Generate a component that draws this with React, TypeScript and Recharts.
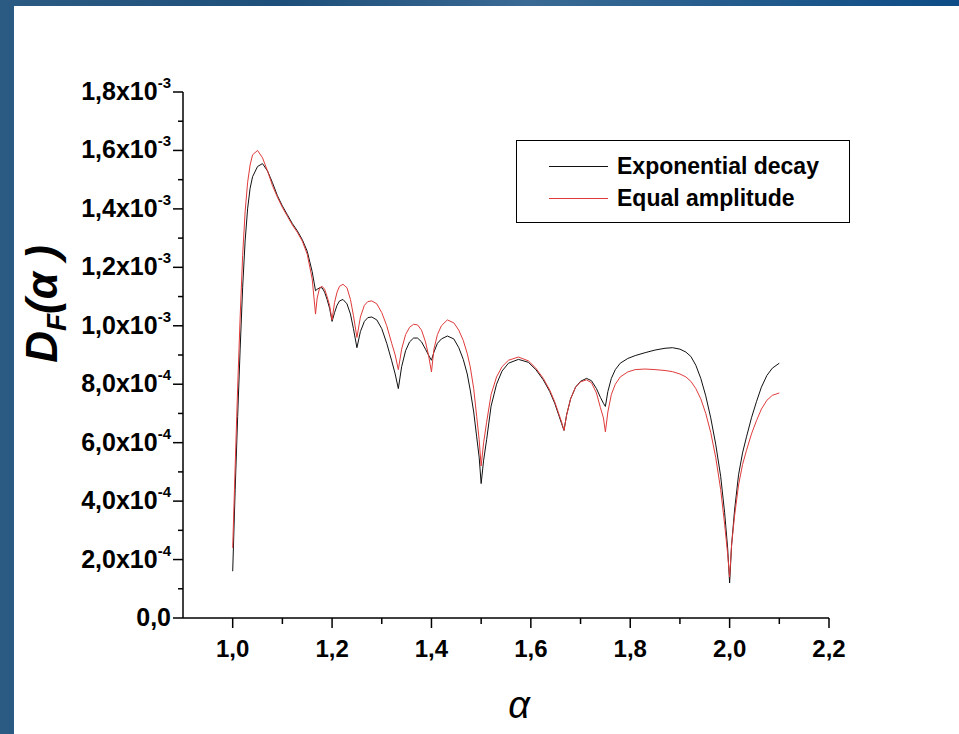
import { LineChart, Line, XAxis, YAxis, Legend, Label } from "recharts";

// alpha values (shared by both curves)
const ALPHA = [
  1.0, 1.005, 1.01, 1.015, 1.02, 1.025, 1.03, 1.035, 1.04, 1.05, 1.06, 1.07, 1.08, 1.09, 1.1, 1.11, 1.12, 1.13, 1.14, 1.15, 1.16, 1.1667,
  1.17, 1.175, 1.18, 1.185, 1.19, 1.195, 1.2,
  1.205, 1.21, 1.215, 1.222, 1.23, 1.237, 1.243, 1.25,
  1.257, 1.265, 1.272, 1.28, 1.29, 1.3, 1.31, 1.32, 1.327, 1.3333,
  1.34, 1.348, 1.356, 1.364, 1.372, 1.38, 1.388, 1.394, 1.4,
  1.405, 1.412, 1.42, 1.432, 1.445, 1.455, 1.464, 1.472, 1.478, 1.485, 1.491, 1.496, 1.5,
  1.505, 1.511, 1.52, 1.531, 1.542, 1.555, 1.575, 1.595, 1.61, 1.625, 1.638, 1.648, 1.656, 1.662, 1.6667,
  1.672, 1.68, 1.69, 1.7, 1.712, 1.722, 1.732, 1.74, 1.746, 1.75,
  1.755, 1.762, 1.77, 1.78, 1.795, 1.81, 1.83, 1.85, 1.87, 1.885, 1.9, 1.912, 1.922, 1.932, 1.942, 1.952, 1.962, 1.972, 1.982, 1.99, 1.996, 2.0,
  2.004, 2.01, 2.018, 2.026, 2.034, 2.044, 2.054, 2.064, 2.075, 2.086, 2.1,
];

// D_F(alpha) in units of 1e-4
const EXP_DECAY = [
  1.6, 4.4, 6.9, 9.2, 11.3, 12.9, 14.0, 14.7, 15.1, 15.45, 15.55, 15.3, 14.9, 14.45, 14.1, 13.8, 13.5, 13.25, 12.95, 12.55, 11.85, 11.2,
  11.25, 11.3, 11.3, 11.15, 10.9, 10.6, 10.15,
  10.45, 10.7, 10.85, 10.9, 10.75, 10.4, 9.9, 9.25,
  9.8, 10.15, 10.28, 10.3, 10.2, 9.9, 9.4, 8.8, 8.35, 7.85,
  8.6, 9.15, 9.45, 9.58, 9.58, 9.45, 9.2, 9.0, 8.82,
  9.1, 9.4, 9.55, 9.65, 9.55, 9.25, 8.85, 8.35, 7.8, 7.05, 6.2, 5.5, 4.6,
  5.4, 6.1, 7.25, 8.0, 8.45, 8.72, 8.85, 8.75, 8.5, 8.15, 7.75, 7.35, 6.95, 6.65, 6.42,
  6.95, 7.5, 7.9, 8.1, 8.2, 8.12, 7.85, 7.55, 7.35, 7.24,
  7.75, 8.2, 8.5, 8.72, 8.88, 8.98, 9.08, 9.17, 9.23, 9.25, 9.2, 9.1, 8.95, 8.65, 8.2, 7.6, 6.85, 5.95, 4.85, 3.6, 2.4, 1.2,
  2.5, 3.7, 4.9, 5.65, 6.2, 6.85, 7.4, 7.9, 8.3, 8.55, 8.72,
];

const EQUAL_AMP = [
  2.4, 5.2, 7.9, 10.3, 12.4, 13.9, 14.9, 15.5, 15.85, 16.0, 15.75, 15.3, 14.8, 14.4, 14.05, 13.75, 13.45, 13.2, 12.9, 12.45, 11.6, 10.4,
  10.95, 11.3, 11.35, 11.25, 11.0, 10.7, 10.2,
  10.8, 11.15, 11.35, 11.42, 11.3, 10.9, 10.35, 9.6,
  10.3, 10.7, 10.83, 10.85, 10.75, 10.45, 10.0, 9.4, 9.0, 8.5,
  9.2, 9.7, 9.95, 10.05, 10.03, 9.85, 9.45, 9.0, 8.42,
  9.2, 9.7, 10.0, 10.2, 10.1, 9.85, 9.5, 9.05, 8.6, 7.85, 6.9, 6.1, 5.2,
  6.0, 6.7, 7.65, 8.25, 8.6, 8.82, 8.93, 8.8, 8.55, 8.2, 7.8, 7.4, 7.0, 6.7, 6.42,
  6.95, 7.5, 7.9, 8.08, 8.15, 8.05, 7.7, 7.2, 6.85, 6.37,
  7.05, 7.65, 8.0, 8.25, 8.42, 8.5, 8.52, 8.5, 8.47, 8.43, 8.35, 8.25, 8.1, 7.85, 7.5, 7.0, 6.35, 5.5, 4.4, 3.2, 2.2, 1.4,
  2.5, 3.5, 4.55, 5.25, 5.74, 6.3, 6.75, 7.15, 7.45, 7.62, 7.7,
];

const SERIES = ["Exponential decay", "Equal amplitude"];

const X_TICKS = [1.0, 1.1, 1.2, 1.3, 1.4, 1.5, 1.6, 1.7, 1.8, 1.9, 2.0, 2.1, 2.2];
const X_LABELS = ["1,0", "1,2", "1,4", "1,6", "1,8", "2,0", "2,2"];

const Y_TICKS = [0, 1, 2, 3, 4, 5, 6, 7, 8, 9, 10, 11, 12, 13, 14, 15, 16, 17, 18];
const Y_MANT = ["0,0", "2,0x10", "4,0x10", "6,0x10", "8,0x10", "1,0x10", "1,2x10", "1,4x10", "1,6x10", "1,8x10"];
const Y_EXP = ["", "-4", "-4", "-4", "-4", "-3", "-3", "-3", "-3", "-3"];

const FONT = "'Liberation Sans', Arial, sans-serif";

const data = ALPHA.map((a, i) => ({ alpha: a, exp: EXP_DECAY[i], eq: EQUAL_AMP[i] }));

function XTick({ x, y, payload }: any) {
  const k = Math.round(payload.value * 10);
  const major = k % 2 === 0;
  return (
    <g>
      <line x1={x} y1={y} x2={x} y2={y + (major ? 10 : 6)} stroke="#000" strokeWidth={1.5} />
      {major && (
        <text x={x} y={y + 39} textAnchor="middle" fontSize={24} fontWeight={700} fontFamily={FONT} fill="#000">
          {X_LABELS[(k - 10) / 2]}
        </text>
      )}
    </g>
  );
}

function YTick({ x, y, payload }: any) {
  const v = Math.round(payload.value);
  const major = v % 2 === 0;
  const idx = v / 2;
  return (
    <g>
      <line x1={x} y1={y} x2={x - (major ? 10 : 5)} y2={y} stroke="#000" strokeWidth={1.5} />
      {major && (
        <text x={x - 12} y={y + 8} textAnchor="end" fontSize={25} fontWeight={700} fontFamily={FONT} fill="#000">
          <tspan>{Y_MANT[idx]}</tspan>
          {Y_EXP[idx] && (
            <tspan dy={-12} fontSize={15}>{Y_EXP[idx]}</tspan>
          )}
        </text>
      )}
    </g>
  );
}

function LegendBox({ payload }: any) {
  const items = SERIES.map((name) => (payload || []).find((p: any) => p.value === name)).filter(Boolean);
  return (
    <div style={{ width: 334, height: 83, border: "1.5px solid #000", background: "#fff", boxSizing: "border-box", paddingTop: 9 }}>
      {items.map((p: any) => (
        <div key={p.value} style={{ display: "flex", alignItems: "center", height: 32 }}>
          <div style={{ marginLeft: 32, width: 59, height: 0, borderTop: `1px solid ${p.color}` }} />
          <span style={{ marginLeft: 9, fontFamily: FONT, fontWeight: 700, fontSize: 23, color: "#000" }}>{p.value}</span>
        </div>
      ))}
    </div>
  );
}

export default function App() {
  return (
    <div style={{ position: "absolute", left: 0, top: 0, width: 959, height: 734, overflow: "hidden",
      background: "linear-gradient(90deg, #2b5b82 0%, #1e4f7a 30%, #3a6a93 55%, #0d4c86 100%)" }}>
      <div style={{ position: "absolute", left: 14, top: 6, right: 0, bottom: 0, background: "#ffffff" }} />
      <div style={{ position: "absolute", left: 0, top: 0 }}>
        <LineChart width={959} height={734} data={data} margin={{ top: 92, right: 130, bottom: 56, left: 0 }}>
          <XAxis
            dataKey="alpha"
            type="number"
            domain={[0.9, 2.2]}
            ticks={X_TICKS}
            interval={0}
            height={60}
            tickSize={0}
            tickMargin={0}
            tickLine={false}
            axisLine={{ stroke: "#000", strokeWidth: 1.5 }}
            tick={<XTick />}
          >
            <Label
              content={({ viewBox }: any) => (
                <text x={viewBox.x + 336} y={viewBox.y + 100} textAnchor="middle" fontSize={38} fontStyle="italic" fontFamily={FONT} fill="#000">
                  α
                </text>
              )}
            />
          </XAxis>
          <YAxis
            type="number"
            domain={[0, 18]}
            ticks={Y_TICKS}
            interval={0}
            width={183}
            tickSize={0}
            tickMargin={0}
            tickLine={false}
            axisLine={{ stroke: "#000", strokeWidth: 1.5 }}
            tick={<YTick />}
          >
            <Label
              content={({ viewBox }: any) => (
                <text
                  transform={`translate(${viewBox.x + 57}, ${viewBox.y + 212}) rotate(-90)`}
                  textAnchor="middle"
                  fontSize={44}
                  fontWeight={700}
                  fontStyle="italic"
                  fontFamily={FONT}
                  fill="#000"
                >
                  <tspan>D</tspan>
                  <tspan dy={9} fontSize={28}>F</tspan>
                  <tspan dy={-9}>(α )</tspan>
                </text>
              )}
            />
          </YAxis>
          <Legend
            layout="horizontal"
            verticalAlign="middle"
            align="center"
            wrapperStyle={{ left: 516, top: 140, width: 334 }}
            content={<LegendBox />}
          />
          <Line type="linear" dataKey="exp" name="Exponential decay" stroke="#111111" strokeWidth={1} dot={false} isAnimationActive={false} />
          <Line type="linear" dataKey="eq" name="Equal amplitude" stroke="#e03a3a" strokeWidth={1} dot={false} isAnimationActive={false} />
        </LineChart>
      </div>
    </div>
  );
}
